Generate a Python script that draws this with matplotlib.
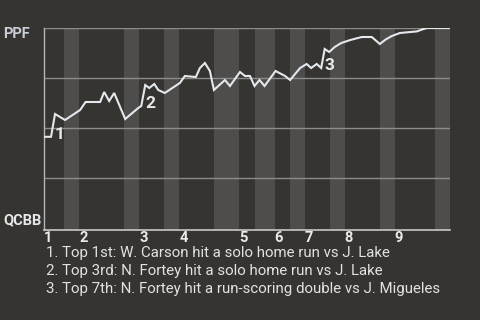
import matplotlib
matplotlib.use("Agg")
import matplotlib.pyplot as plt

plt.rcParams['font.family'] = ['Roboto', 'DejaVu Sans']

# half-inning boundaries (event index) and win probability for PPF (%)
inning_starts = [0, 7, 19, 27, 39, 46, 52, 60, 70]
inning_labels = ["1", "2", "3", "4", "5", "6", "7", "8", "9"]
bottom_halves = [(4, 7), (16, 19), (24, 27), (34, 39), (42, 46),
                 (49, 52), (57, 60), (67, 70), (78, 81)]

event_x = [0, 1.4, 2.2, 4.2, 7.2, 8.3, 11.2, 12.0, 13.0, 14.0, 16.2,
           18.8, 19.4, 20.2, 21.0, 22.0, 22.8, 24.1, 27.1, 28.1, 30.3,
           31.1, 32.1, 33.1, 33.9, 36.1, 37.1, 39.1, 40.1, 41.1, 42.0,
           43.0, 44.0, 46.2, 48.1, 49.1, 51.1, 52.4, 53.3, 54.4, 55.3,
           56.0, 56.9, 58.0, 59.3, 61.1, 63.4, 65.4, 67.0, 68.2, 69.4,
           71.0, 74.4, 75.6, 76.4, 81]
win_prob = [45.6, 45.6, 57, 54, 59, 63, 63, 68, 63.5, 67.5, 54.5,
            60, 61, 71.5, 70, 72, 69, 67.5, 72.5, 76, 75.5,
            80, 82.5, 78.5, 69, 74, 71, 78, 76, 76, 71,
            74, 71, 78.5, 76, 74, 80, 82, 80, 82, 80,
            89.5, 88, 90.5, 92.5, 94, 95.5, 95.5, 92, 94.3, 96,
            97.5, 98.3, 99.4, 100, 100]

# key plays: (x at spike top, y at spike bottom)
key_labels = ["1", "2", "3"]
key_x = [2.2, 20.2, 56.0]
key_y = [45.6, 61, 80]

notes = [
    "1. Top 1st: W. Carson hit a solo home run vs J. Lake",
    "2. Top 3rd: N. Fortey hit a solo home run vs J. Lake",
    "3. Top 7th: N. Fortey hit a run-scoring double vs J. Migueles",
]

bg = "#363431"
fig = plt.figure(figsize=(4.8, 3.2), dpi=100, facecolor=bg)
ax = fig.add_axes([44 / 480, 90 / 320, 406 / 480, 202 / 320])
ax.set_facecolor(bg)

for a, b in bottom_halves:
    ax.axvspan(a, b, color="#4e4d4c", lw=0, zorder=0)

for g in [25, 50, 75, 100]:
    ax.axhline(g, color="#8c8b89", lw=1, zorder=1)

ax.plot(event_x, win_prob, color="#e4e8ec", lw=1.5, zorder=3,
        solid_joinstyle="miter")

for lab, x, y in zip(key_labels, key_x, key_y):
    ax.annotate(lab, (x, y), xytext=(0, -1.5), textcoords="offset points",
                ha="left", va="baseline", color="#e8e8e8",
                fontsize=12.5, fontweight="bold", zorder=4)

ax.set_xlim(0, 81)
ax.set_ylim(-1, 100)
for s in ["top", "right"]:
    ax.spines[s].set_visible(False)
ax.spines["left"].set_color("#b5b5b5")
ax.spines["bottom"].set_color("#c8c8c8")
ax.spines["left"].set_linewidth(1)
ax.spines["bottom"].set_linewidth(1.2)
ax.set_yticks([])
ax.set_xticks(inning_starts)
ax.set_xticklabels(inning_labels)
ax.tick_params(axis="x", length=0, pad=1, colors="#ececec", labelsize=10.5)
for t in ax.get_xticklabels():
    t.set_fontweight("bold")
    t.set_horizontalalignment("left")

fig.text(3 / 480, 1 - 34 / 320, "PPF", color="#c8ced4", fontsize=10.5,
         fontweight="bold", ha="left", va="center")
fig.text(3 / 480, 1 - 220 / 320, "QCBB", color="#e6e8ea", fontsize=10.5,
         fontweight="bold", ha="left", va="center")

for i, line in enumerate(notes):
    fig.text(46 / 480, 1 - (252.5 + 18.2 * i) / 320, line, color="#e2e2e2",
             fontsize=10.8, ha="left", va="center")

fig.savefig("out.png", dpi=100, facecolor=bg)
